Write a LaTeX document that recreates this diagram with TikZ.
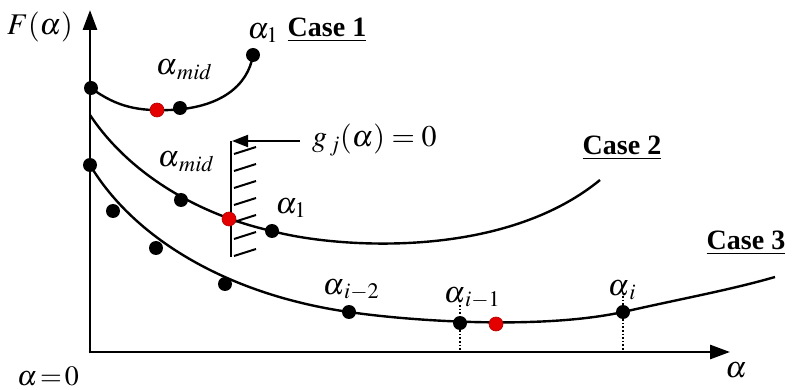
\documentclass[tikz,border=0pt]{standalone}
\usepackage{mathptmx}
\usepackage{fontspec}
\setmainfont{Liberation Serif}
\usetikzlibrary{arrows.meta}
\tikzset{
  bdot/.style={circle,fill=black,inner sep=0pt,minimum size=14pt},
  rdot/.style={circle,fill=red!90!black,draw=red!70!black,line width=0.6pt,inner sep=0pt,minimum size=14pt},
  curve/.style={line width=2.4pt},
  axis/.style={line width=2.8pt,-{Triangle[length=20pt,width=14pt]}},
  lbl/.style={inner sep=0pt,font=\fontsize{30}{34}\selectfont},
  casel/.style={inner sep=0pt,font=\fontsize{28}{32}\selectfont\bfseries},
  hatch/.style={line width=2pt},
  guide/.style={line width=1.6pt,dotted}
}
\begin{document}
\begin{tikzpicture}[x=1pt,y=-1pt]
\useasboundingbox (0,0) rectangle (793,390);
% axes
\coordinate (O) at (90,352);
\coordinate (ytop) at (90,10);
\coordinate (xend) at (730,352);
\draw[axis] ([yshift=-1.4pt]O) -- (ytop);
\draw[axis] ([xshift=-1.4pt]O) -- (xend);
\node[lbl] (Fa) at (40,27) {$F(\alpha)$};
\node[lbl,font=\fontsize{28}{32}\selectfont] (a0) at (48,376) {$\alpha\!=\!0$};
\node[lbl] (ax) at (736,370) {$\alpha$};
% Case 1
\draw[curve] (91,88) .. controls (118,108) and (140,111) .. (170,110) .. controls (220,108) and (248,86) .. (253,55);
\node[bdot] (c1s) at (91,88) {};
\node[rdot] (c1r) at (157,110) {};
\node[bdot] (c1m) at (180,108) {};
\node[bdot] (c1e) at (253,55) {};
\node[lbl] (c1amid) at (184,70) {$\alpha_{\,mid}$};
\node[lbl] (c1a1) at (263,33) {$\alpha_1$};
\node[casel] (case1) at (327,30) {\underline{Case 1}};
% Case 2
\draw[curve] (90,115) .. controls (130,175) and (200,215) .. (272,231) .. controls (330,247) and (500,262) .. (600,180);
\node[bdot] (c2m) at (181,200) {};
\node[bdot] (c2a) at (272,231) {};
\node[lbl] (c2amid) at (186,162) {$\alpha_{\,mid}$};
\node[lbl] (c2a1) at (291,208) {$\alpha_1$};
\node[casel] (case2) at (622,148) {\underline{Case 2}};
% constraint
\coordinate (gtop) at (231,141);
\coordinate (gbot) at (231,257);
\draw[line width=2.4pt] (gtop) -- (gbot);
\foreach \y in {150,167,184,201,218,235,252}
  \draw[hatch] (234,\y+4) -- (256,\y-3);
\node[rdot] (c2r) at (229,219) {};
\node[lbl,anchor=west] (glbl) at (312,140) {$g_{\,j}(\alpha)=0$};
\draw[line width=2pt,-{Triangle[length=16pt,width=12pt]}] (300,141) -- (232,141);
% Case 3
\draw[curve] (90,165) .. controls (135,240) and (230,295) .. (349,312) .. controls (410,321) and (540,330) .. (623,312) .. controls (680,299) and (730,290) .. (775,277);
\node[bdot] (c3s) at (90,165) {};
\node[bdot] (c3d1) at (113,211) {};
\node[bdot] (c3d2) at (156,248) {};
\node[bdot] (c3d3) at (225,284) {};
\node[bdot] (c3a2) at (349,312) {};
\node[bdot] (c3a1) at (460,323) {};
\node[rdot] (c3r) at (496,324) {};
\node[bdot] (c3ai) at (623,312) {};
\draw[guide] (c3a1.south) -- (460,350);
\draw[guide] (c3ai.south) -- (623,350);
\draw[guide] (460,305) -- (c3a1.north);
\draw[guide] (623,296) -- (c3ai.north);
\node[lbl] (la2) at (351,290) {$\alpha_{\,i-2}$};
\node[lbl] (la1) at (472,298) {$\alpha_{\,i-1}$};
\node[lbl] (lai) at (622,290) {$\alpha_{\,i}$};
\node[casel] (case3) at (746,243) {\underline{Case 3}};
\end{tikzpicture}
\end{document}
